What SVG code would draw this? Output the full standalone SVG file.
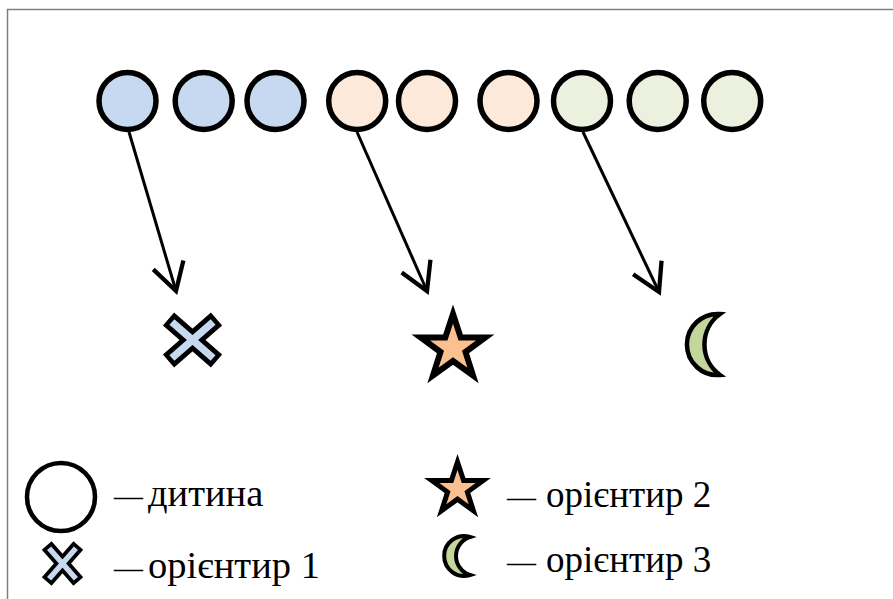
<svg xmlns="http://www.w3.org/2000/svg" width="893" height="599" viewBox="0 0 893 599">
<defs>
<style>
.child{stroke:#000;stroke-width:5.5}
.blue{fill:#c6d9f1}
.peach{fill:#fde9d9}
.green{fill:#ebf1de}
.conn{stroke:#000;stroke-width:3;fill:none}
.lbl{font-family:"Liberation Serif","Times New Roman",serif;font-size:37px;fill:#000}
.lbl.l{font-size:38.5px}
.sym{stroke:#000;stroke-linejoin:miter}
</style>
<marker id="arr" markerUnits="userSpaceOnUse" markerWidth="40" markerHeight="40" refX="0" refY="0" viewBox="-22 -14 26 28" orient="auto" overflow="visible">
<path d="M-19,-11 L0,0 L-19,11" fill="none" stroke="#000" stroke-width="3"/>
</marker>
</defs>
<rect width="893" height="599" fill="#fff"/>
<g id="frame" stroke="#7f7f7f" stroke-width="1.5" fill="none">
<path d="M7.5,599 L7.5,9.5 L893,9.5"/>
</g>
<g id="child1"><circle class="child blue" cx="127.5" cy="101" r="28.5"/></g>
<g id="child2"><circle class="child blue" cx="203.7" cy="101" r="28.5"/></g>
<g id="child3"><circle class="child blue" cx="275.5" cy="101" r="28.5"/></g>
<g id="child4"><circle class="child peach" cx="357.2" cy="101" r="28.5"/></g>
<g id="child5"><circle class="child peach" cx="427" cy="101" r="28.5"/></g>
<g id="child6"><circle class="child peach" cx="508.5" cy="101" r="28.5"/></g>
<g id="child7"><circle class="child green" cx="582" cy="101" r="28.5"/></g>
<g id="child8"><circle class="child green" cx="657.7" cy="101" r="28.5"/></g>
<g id="child9"><circle class="child green" cx="732.2" cy="101" r="28.5"/></g>
<g id="connectors">
<line class="conn" x1="129" y1="132" x2="176" y2="291" marker-end="url(#arr)"/>
<line class="conn" x1="357" y1="132" x2="427" y2="291" marker-end="url(#arr)"/>
<line class="conn" x1="583" y1="132" x2="659" y2="292" marker-end="url(#arr)"/>
</g>
<g id="landmark1" transform="translate(192.5,340)">
<path d="M-24,-21 L24,21 M24,-21 L-24,21" stroke="#000" stroke-width="17" fill="none"/>
<path d="M-20.6,-18 L20.6,18 M20.6,-18 L-20.6,18" stroke="#c6d9f1" stroke-width="7.5" fill="none"/>
</g>
<g id="landmark2">
<polygon class="sym" fill="#fac090" stroke-width="6" points="453,314 460.7,337.4 485.3,337.4 465.5,352 473,375.4 453,361 433,375.4 440.5,352 420.7,337.4 445.3,337.4"/>
</g>
<g id="landmark3">
<path class="sym" fill="#c3d69b" stroke-width="4.5" d="M720,314 A30.6,30.6 0 1 0 720,375 A37.7,37.7 0 0 1 720,314 Z"/>
</g>
<g id="legend">
<circle cx="61" cy="497" r="34" fill="#fff" stroke="#000" stroke-width="4.5"/>
<text class="lbl l" y="506"><tspan font-size="29" x="114">—</tspan><tspan x="148">дитина</tspan></text>
<g transform="translate(62.5,563.5)">
<path d="M-15.8,-18 L15.8,18 M15.8,-18 L-15.8,18" stroke="#000" stroke-width="13" fill="none"/>
<path d="M-13.4,-15.3 L13.4,15.3 M13.4,-15.3 L-13.4,15.3" stroke="#c6d9f1" stroke-width="5.5" fill="none"/>
</g>
<text class="lbl l" y="578"><tspan font-size="29" x="114">—</tspan><tspan x="148">орієнтир 1</tspan></text>
<polygon class="sym" fill="#fac090" stroke-width="5" points="457.5,462 463.6,480.6 483.2,480.6 467.4,492.1 473.4,510.7 457.5,499.2 441.6,510.7 447.6,492.1 431.8,480.6 451.4,480.6"/>
<text class="lbl" y="507"><tspan font-size="29" x="507">—</tspan><tspan x="546">орієнтир 2</tspan></text>
<path class="sym" fill="#c3d69b" stroke-width="4" d="M470,537 A19.9,19.9 0 1 0 470,575 A19.9,19.9 0 0 1 470,537 Z"/>
<text class="lbl" y="572"><tspan font-size="29" x="507">—</tspan><tspan x="546">орієнтир 3</tspan></text>
</g>
</svg>
